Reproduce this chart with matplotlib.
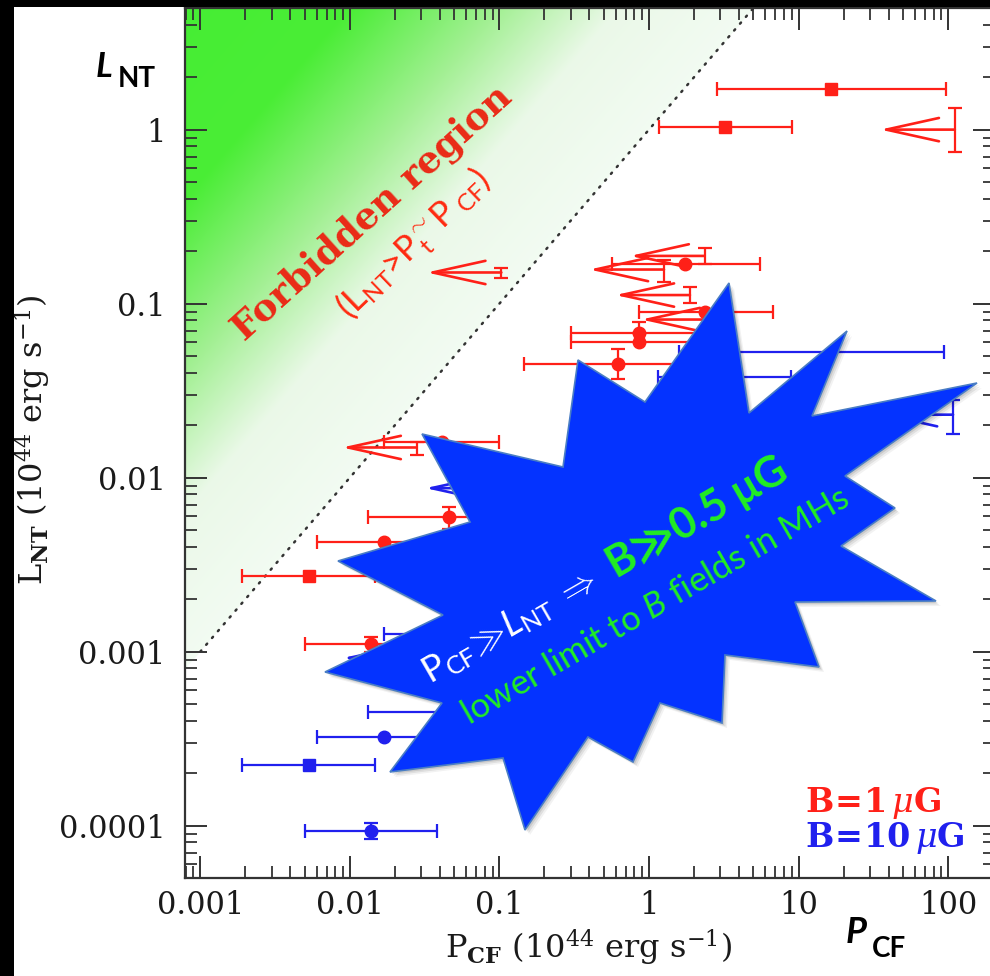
import numpy as np
import matplotlib
matplotlib.use('Agg')
import matplotlib.pyplot as plt
from matplotlib.patches import Polygon, Rectangle
from matplotlib.transforms import Affine2D
from matplotlib.ticker import FixedLocator, FixedFormatter, LogLocator, NullFormatter

plt.rcParams['mathtext.fontset'] = 'custom'
plt.rcParams['mathtext.rm'] = 'Lato'
plt.rcParams['mathtext.it'] = 'Lato:italic'
plt.rcParams['mathtext.bf'] = 'Lato:bold'

RED = '#ff2018'
BLUE = '#2020ee'
AXC = '#333333'

# axis ranges and tick labels
x_lim = (7.9e-4, 206.0)
y_lim = (5.0e-5, 5.0)
x_ticks = [0.001, 0.01, 0.1, 1, 10, 100]
x_ticklabels = ['0.001', '0.01', '0.1', '1', '10', '100']
y_ticks = [0.0001, 0.001, 0.01, 0.1, 1]
y_ticklabels = ['0.0001', '0.001', '0.01', '0.1', '1']

# B = 1 muG (red): squares  P, L, P_low, P_high
red_sq_P = [16.6, 3.24, 0.0053]
red_sq_L = [1.72, 1.03, 0.00272]
red_sq_Plo = [2.84, 1.17, 0.00189]
red_sq_Phi = [97.0, 9.1, 0.0147]

# B = 1 muG (red): circles  P, L, P_low, P_high, L_low, L_high
red_ci_P = [1.75, 2.36, 0.86, 0.86, 0.62, 0.041, 0.046, 0.0169, 0.0138]
red_ci_L = [0.168, 0.090, 0.068, 0.060, 0.045, 0.0161, 0.0059, 0.00427, 0.00110]
red_ci_Plo = [0.57, 0.86, 0.30, 0.30, 0.147, 0.017, 0.0133, 0.0060, 0.0050]
red_ci_Phi = [5.5, 6.7, 2.5, 2.5, 1.6, 0.100, 0.15, 0.05, 0.04]
red_ci_Llo = [0.168, 0.090, 0.068, 0.060, 0.037, 0.0161, 0.0051, 0.00427, 0.00100]
red_ci_Lhi = [0.168, 0.090, 0.078, 0.060, 0.055, 0.0161, 0.0068, 0.00427, 0.00122]

# B = 1 muG (red): upper limits on P  P, L, L_low, L_high
red_ul_P = [111.0, 0.103, 1.26, 2.36, 1.88, 2.8, 0.028]
red_ul_L = [1.00, 0.151, 0.157, 0.188, 0.112, 0.081, 0.0149]
red_ul_Llo = [0.74, 0.141, 0.134, 0.168, 0.101, 0.075, 0.0135]
red_ul_Lhi = [1.34, 0.161, 0.179, 0.210, 0.125, 0.088, 0.0161]

# B = 10 muG (blue): squares
blue_sq_P = [0.0053]
blue_sq_L = [0.000222]
blue_sq_Plo = [0.00189]
blue_sq_Phi = [0.0147]

# B = 10 muG (blue): circles
blue_ci_P = [0.0169, 0.0138, 0.05, 0.05, 2.6, 2.3]
blue_ci_L = [0.000322, 9.3e-5, 0.00045, 0.00127, 0.053, 0.038]
blue_ci_Plo = [0.0060, 0.0050, 0.0133, 0.017, 1.6, 1.15]
blue_ci_Phi = [0.05, 0.038, 0.15, 0.15, 94.0, 8.9]
blue_ci_Llo = [0.000322, 8.4e-5, 0.00045, 0.00127, 0.053, 0.038]
blue_ci_Lhi = [0.000322, 1.03e-4, 0.00045, 0.00127, 0.053, 0.038]

# B = 10 muG (blue): upper limits on P
blue_ul_P = [108.0, 0.101, 0.0284]
blue_ul_L = [0.023, 0.0087, 0.00092]
blue_ul_Llo = [0.0177, 0.0080, 0.00085]
blue_ul_Lhi = [0.0278, 0.0094, 0.00099]

ARROW_FACTOR = 10 ** 0.5   # length of the upper-limit arrows (decades)

# starburst outline, in image pixels (decoration, not data)
STAR_PX = [(729, 283), (749, 413), (847, 331), (812, 416), (977, 383), (845, 476),
           (895, 508), (841, 546), (936, 601), (795, 602), (819, 667), (725, 655),
           (722, 723), (660, 703), (633, 762), (588, 737), (525, 830), (503, 758),
           (390, 772), (442, 703), (325, 672), (443, 615), (338, 561), (470, 522),
           (422, 434), (563, 467), (578, 360), (645, 402)]

W, H = 990, 976
fig = plt.figure(figsize=(W / 100, H / 100), dpi=100)
pix = Affine2D().scale(1 / W, -1 / H).translate(0, 1) + fig.transFigure

pos = [185 / W, (H - 878) / H, 810 / W, 870 / H]

# green "forbidden" gradient in a background axes
bg = fig.add_axes(pos, zorder=0)
bg.set_axis_off()
lx0, lx1 = np.log10(x_lim)
ly0, ly1 = np.log10(y_lim)
n = 900
U, V = np.meshgrid((np.arange(n) + 0.5) / n, (np.arange(n) + 0.5) / n)
t = (ly0 + V * (ly1 - ly0)) - (lx0 + U * (lx1 - lx0))
stop_t = [0.0, 0.9, 1.7, 2.7, 5.0]
stop_c = np.array([[0.95, 0.985, 0.95], [0.92, 0.975, 0.91], [0.64, 0.94, 0.58],
                   [0.29, 0.93, 0.21], [0.26, 0.93, 0.20]])
img = np.zeros((n, n, 4))
for k in range(3):
    img[..., k] = np.interp(t, stop_t, stop_c[:, k])
img[..., 3] = (t > 0).astype(float)
bg.imshow(img, extent=(0, 1, 0, 1), origin='lower', aspect='auto', interpolation='bilinear')
bg.set_xlim(0, 1)
bg.set_ylim(0, 1)

ax = fig.add_axes(pos, zorder=1)
ax.patch.set_alpha(0)
ax.set_xscale('log')
ax.set_yscale('log')
ax.set_xlim(*x_lim)
ax.set_ylim(*y_lim)

# L = P line
diag = np.array([0.001, 10.0])
ax.plot(diag, diag, color='#333333', lw=1.8, ls=(0, (0.6, 3.0)), dash_capstyle='round', zorder=1)

ekw = dict(elinewidth=1.6, capsize=5, capthick=1.6, markersize=9, zorder=3)


def points(P, L, Plo, Phi, Llo, Lhi, fmt, color):
    for i in range(len(P)):
        xerr = [[P[i] - Plo[i]], [Phi[i] - P[i]]]
        yerr = None
        if Lhi[i] > L[i] or Llo[i] < L[i]:
            yerr = [[L[i] - Llo[i]], [Lhi[i] - L[i]]]
        ax.errorbar([P[i]], [L[i]], xerr=xerr, yerr=yerr, fmt=fmt, color=color,
                    mfc=color, mec=color, **ekw)


def limits(P, L, Llo, Lhi, color):
    for i in range(len(P)):
        ax.errorbar([P[i]], [L[i]], yerr=[[L[i] - Llo[i]], [Lhi[i] - L[i]]], fmt='none',
                    ecolor=color, elinewidth=1.6, capsize=5, capthick=1.6, zorder=3)
        ax.annotate('', xy=(P[i] / ARROW_FACTOR, L[i]), xytext=(P[i], L[i]),
                    arrowprops=dict(arrowstyle='->,head_length=1.9,head_width=0.42',
                                    mutation_scale=20, lw=1.9, color=color,
                                    shrinkA=0, shrinkB=0), zorder=3)


points(red_sq_P, red_sq_L, red_sq_Plo, red_sq_Phi, red_sq_L, red_sq_L, 's', RED)
points(red_ci_P, red_ci_L, red_ci_Plo, red_ci_Phi, red_ci_Llo, red_ci_Lhi, 'o', RED)
limits(red_ul_P, red_ul_L, red_ul_Llo, red_ul_Lhi, RED)
points(blue_sq_P, blue_sq_L, blue_sq_Plo, blue_sq_Phi, blue_sq_L, blue_sq_L, 's', BLUE)
points(blue_ci_P, blue_ci_L, blue_ci_Plo, blue_ci_Phi, blue_ci_Llo, blue_ci_Lhi, 'o', BLUE)
limits(blue_ul_P, blue_ul_L, blue_ul_Llo, blue_ul_Lhi, BLUE)

# ticks
ax.xaxis.set_major_locator(FixedLocator(x_ticks))
ax.xaxis.set_major_formatter(FixedFormatter(x_ticklabels))
ax.yaxis.set_major_locator(FixedLocator(y_ticks))
ax.yaxis.set_major_formatter(FixedFormatter(y_ticklabels))
for a in (ax.xaxis, ax.yaxis):
    a.set_minor_locator(LogLocator(base=10, subs=np.arange(2, 10), numticks=20))
    a.set_minor_formatter(NullFormatter())
ax.tick_params(which='both', direction='in', top=True, right=True, color=AXC,
               labelcolor='#1a1a1a', labelsize=22, labelfontfamily='DejaVu Serif')
ax.tick_params(which='major', length=16, width=1.4)
ax.tick_params(which='minor', length=8.5, width=1.3)
ax.tick_params(axis='x', pad=9)
ax.tick_params(axis='y', pad=14)
for s in ax.spines.values():
    s.set_color(AXC)
    s.set_linewidth(1.6)

# axis labels (serif, like the original)
fig.text(588, 948, r'P$_{\mathbf{CF}}$ (10$^{44}$ erg s$^{-1}$)', transform=pix,
         ha='center', va='center', fontsize=23, family='DejaVu Serif',
         math_fontfamily='dejavuserif', color='#1a1a1a')
fig.text(33, 440, r'L$_{\mathbf{NT}}$ (10$^{44}$ erg s$^{-1}$)', transform=pix,
         ha='center', va='center', rotation=90, fontsize=23, family='DejaVu Serif',
         math_fontfamily='dejavuserif', color='#1a1a1a')

# large bold labels
fig.text(96, 77, 'L', transform=pix, ha='left', va='baseline', fontsize=25,
         family='Lato', weight='bold', style='italic', color='black')
fig.text(118, 87, 'NT', transform=pix, ha='left', va='baseline', fontsize=20,
         family='Lato', weight='bold', color='black')
fig.text(846, 943, 'P', transform=pix, ha='left', va='baseline', fontsize=26,
         family='Lato', weight='bold', style='italic', color='black')
fig.text(872, 957, 'CF', transform=pix, ha='left', va='baseline', fontsize=20,
         family='Lato', weight='bold', color='black')

# forbidden region labels
fig.text(372, 213, 'Forbidden region', transform=pix, ha='center', va='center',
         rotation=42, fontsize=27, family='DejaVu Serif', weight='bold',
         color='#ea2a16', zorder=4)
fig.text(414, 244, r'(L$_{\mathrm{NT}}$>P$^{\sim}_{\mathrm{t}}$P$_{\mathrm{\ CF}}$)',
         transform=pix, ha='center', va='center', rotation=44, fontsize=25,
         family='Lato', color='#ff2a10', zorder=4)

# legend-like texts
fig.text(805, 812, r'$\mathbf{B\!=\!1}\,\mu\mathbf{G}$', transform=pix, ha='left',
         va='baseline', fontsize=24, math_fontfamily='dejavuserif', color=RED, zorder=6)
fig.text(805, 847, r'$\mathbf{B\!=\!10}\,\mu\mathbf{G}$', transform=pix, ha='left',
         va='baseline', fontsize=24, math_fontfamily='dejavuserif', color=BLUE, zorder=6)

# starburst with soft shadow
star = np.array(STAR_PX, dtype=float)
for off, al in [(5, 0.05), (3.5, 0.08), (2, 0.1)]:
    fig.patches.append(Polygon(star + [off, off], closed=True, transform=pix,
                               facecolor='black', edgecolor='none', alpha=al, zorder=5))
fig.patches.append(Polygon(star, closed=True, transform=pix, facecolor='#0433ff',
                           edgecolor='#4a7ec4', lw=1.2, zorder=5))

fig.text(510, 626, r'$\mathrm{P}_{\mathrm{CF}}\!\gg\!\mathit{L}_{\mathrm{NT}}\ \Rightarrow$',
         transform=pix, ha='center', va='center', rotation=30, fontsize=26,
         color='white', zorder=7)
fig.text(697, 517, 'B≫0.5 μG', transform=pix, ha='center', va='center', rotation=30,
         fontsize=31, family=['Lato', 'DejaVu Sans'], weight='bold', color='#22ee22', zorder=7)
fig.text(656, 606, r'lower limit to $\mathit{B}$ fields in MHs', transform=pix,
         ha='center', va='center', rotation=30, fontsize=25, family='Lato',
         color='#22ee22', zorder=7)

# black frame strips of the screenshot
fig.patches.append(Rectangle((0, 0), 14 / W, 1, transform=fig.transFigure,
                             facecolor='black', edgecolor='none', zorder=10))
fig.patches.append(Rectangle((0, 1 - 7 / H), 1, 7 / H, transform=fig.transFigure,
                             facecolor='black', edgecolor='none', zorder=10))

fig.savefig('out.png', dpi=100, facecolor='white')
